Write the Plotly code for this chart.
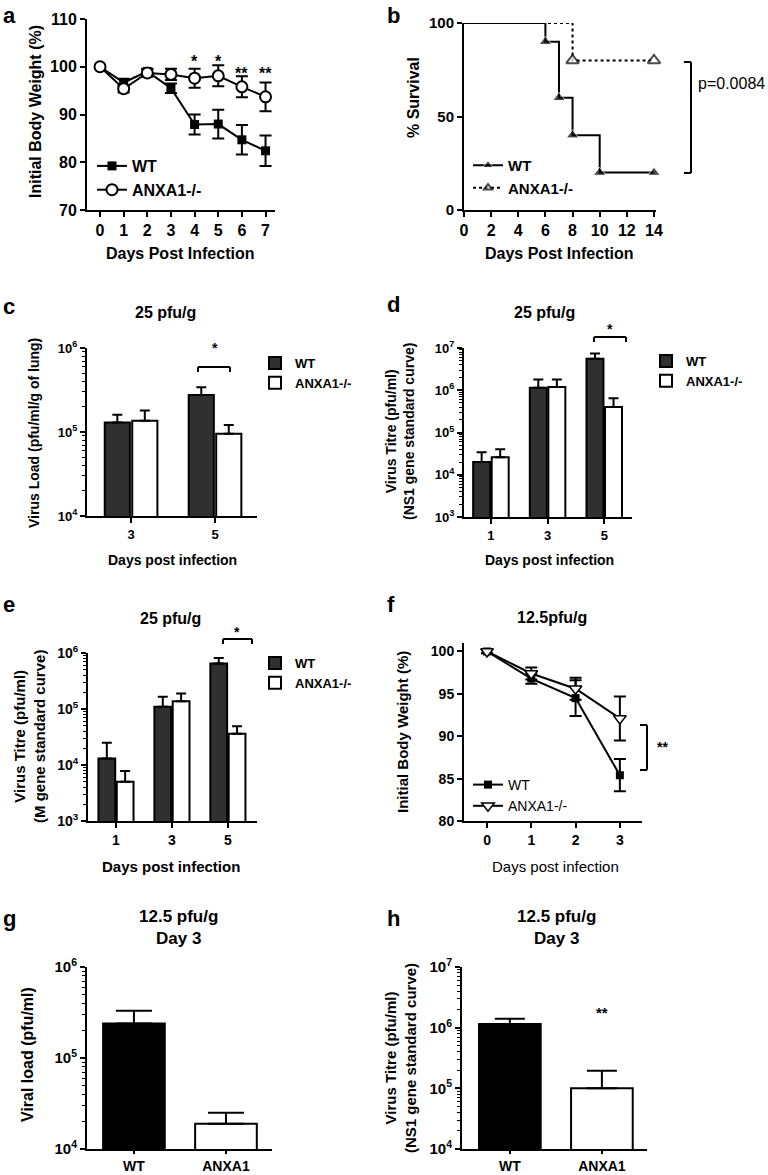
import plotly.graph_objects as go

W, H = 768, 1175
FONT = "Liberation Sans, Arial, sans-serif"


def px(x):
    return x / W


def py(y):
    return 1 - y / H


# ---------------- data ----------------
names = ["WT", "ANXA1-/-"]

# (a) body weight, 25 pfu/g
days_a = [0, 1, 2, 3, 4, 5, 6, 7]
wt_a = [100, 96.7, 99.0, 95.5, 87.9, 88.0, 84.7, 82.4]
wt_a_err = [0.4, 0.8, 0.6, 1.0, 2.1, 3.0, 3.1, 3.2]
ko_a = [100, 95.4, 98.7, 98.4, 97.6, 98.1, 95.8, 93.7]
ko_a_err = [0.4, 0.8, 0.8, 1.2, 2.0, 2.2, 2.2, 3.0]
sig_a_days = [4, 5, 6, 7]
sig_a_text = ["*", "*", "**", "**"]

# (b) survival
surv_wt_days = [0, 6, 7, 8, 10, 14]
surv_wt = [100, 90, 60, 40, 20, 20]
surv_ko_days = [0, 8, 14]
surv_ko = [100, 80, 80]
p_text = "p=0.0084"

# (c) virus load, 25 pfu/g
days_c = [3, 5]
wt_c = [1.3e5, 2.75e5]
wt_c_err = [0.3e5, 0.65e5]
ko_c = [1.36e5, 0.95e5]
ko_c_err = [0.44e5, 0.26e5]

# (d) virus titre, NS1 gene
days_d = [1, 3, 5]
wt_d = [2.0e4, 1.15e6, 5.6e6]
wt_d_err = [1.4e4, 0.65e6, 1.8e6]
ko_d = [2.6e4, 1.2e6, 4.0e5]
ko_d_err = [1.4e4, 0.6e6, 2.5e5]

# (e) virus titre, M gene
days_e = [1, 3, 5]
wt_e = [1.3e4, 1.1e5, 6.5e5]
wt_e_err = [1.2e4, 0.55e5, 1.6e5]
ko_e = [5.0e3, 1.38e5, 3.6e4]
ko_e_err = [2.8e3, 0.52e5, 1.3e4]

# (f) body weight, 12.5 pfu/g
days_f = [0, 1, 2, 3]
wt_f = [100, 96.8, 94.5, 85.4]
wt_f_err = [0.2, 0.6, 2.1, 1.9]
ko_f = [100, 97.4, 95.6, 92.1]
ko_f_err = [0.2, 0.7, 1.3, 2.6]

# (g) viral load day 3 ; (h) virus titre day 3
groups_gh = ["WT", "ANXA1"]
g_vals = [2.4e5, 1.9e4]
g_err = [0.9e5, 0.6e4]
h_vals = [1.15e6, 1.0e5]
h_err = [0.25e6, 0.95e5]

DARK = "#303030"

# ---------------- helpers ----------------
AX = dict(showline=True, linecolor="black", linewidth=2, ticks="outside",
          ticklen=5, tickwidth=2, tickcolor="black", showgrid=False,
          zeroline=False, fixedrange=True, automargin=False)


def tf(size, bold=True):
    return dict(family=FONT, size=size, color="black",
                weight="bold" if bold else "normal")


def dom_x(a, b):
    return [px(a), px(b)]


def dom_y(top, bottom):
    return [py(bottom), py(top)]


def lin_axis(dom, rng, vals, size, **kw):
    d = dict(AX, domain=dom, range=rng, tickmode="array", tickvals=vals,
             tickfont=tf(size))
    d.update(kw)
    return d


def log_axis(dom, lo, hi, size):
    vals = [10 ** n for n in range(lo, hi + 1)]
    minors = [k * 10 ** n for n in range(lo, hi) for k in range(2, 10)]
    return dict(AX, type="log", domain=dom, range=[lo, hi], tickmode="array",
                tickvals=vals,
                ticktext=[f"10<sup>{n}</sup>" for n in range(lo, hi + 1)],
                tickfont=tf(size),
                minor=dict(tickmode="array", tickvals=minors, ticks="outside",
                           ticklen=3, tickwidth=1, tickcolor="black"))


def err(vals, width, sym=True):
    if sym:
        return dict(type="data", array=vals, color="black", thickness=2, width=width)
    return dict(type="data", symmetric=False, array=vals, arrayminus=[0] * len(vals),
                color="black", thickness=2, width=width)


fig = go.Figure()

# ---------------- (a) ----------------
fig.add_trace(go.Scatter(x=days_a, y=wt_a, error_y=err(wt_a_err, 6), name=names[0],
                         mode="lines+markers", line=dict(color="black", width=2),
                         marker=dict(symbol="square", size=9, color="black"),
                         xaxis="x", yaxis="y", legend="legend", cliponaxis=False))
fig.add_trace(go.Scatter(x=days_a, y=ko_a, error_y=err(ko_a_err, 6), name=names[1],
                         mode="lines+markers", line=dict(color="black", width=2),
                         marker=dict(symbol="circle", size=11, color="white",
                                     line=dict(color="black", width=2)),
                         xaxis="x", yaxis="y", legend="legend", cliponaxis=False))

# ---------------- (b) ----------------
fig.add_trace(go.Scatter(x=surv_wt_days, y=surv_wt, name=names[0], mode="lines+markers",
                         line=dict(color="black", width=2, shape="hv"),
                         marker=dict(symbol="triangle-up", size=[0, 11, 11, 11, 11, 11],
                                     color="black"),
                         xaxis="x2", yaxis="y2", legend="legend2", cliponaxis=False))
fig.add_trace(go.Scatter(x=surv_ko_days, y=surv_ko, name=names[1], mode="lines+markers",
                         line=dict(color="black", width=2, shape="hv", dash="dot"),
                         marker=dict(symbol="triangle-up", size=[0, 11, 11], color="white",
                                     line=dict(color="black", width=2)),
                         xaxis="x2", yaxis="y2", legend="legend2", cliponaxis=False))

# ---------------- (c), (d), (e) grouped bars ----------------
for i, (days, wt, wte, ko, koe, leg) in enumerate([
        (days_c, wt_c, wt_c_err, ko_c, ko_c_err, "legend3"),
        (days_d, wt_d, wt_d_err, ko_d, ko_d_err, "legend4"),
        (days_e, wt_e, wt_e_err, ko_e, ko_e_err, "legend5")]):
    xa, ya = f"x{i + 3}", f"y{i + 3}"
    fig.add_trace(go.Bar(x=days, y=wt, error_y=err(wte, 5, sym=False), name=names[0],
                         marker=dict(color=DARK, line=dict(color="black", width=2)),
                         xaxis=xa, yaxis=ya, legend=leg))
    fig.add_trace(go.Bar(x=days, y=ko, error_y=err(koe, 5, sym=False), name=names[1],
                         marker=dict(color="white", line=dict(color="black", width=2)),
                         xaxis=xa, yaxis=ya, legend=leg))

# ---------------- (f) ----------------
fig.add_trace(go.Scatter(x=days_f, y=wt_f, error_y=err(wt_f_err, 6), name=names[0],
                         mode="lines+markers", line=dict(color="black", width=2),
                         marker=dict(symbol="square", size=8, color="black"),
                         xaxis="x6", yaxis="y6", legend="legend6", cliponaxis=False))
fig.add_trace(go.Scatter(x=days_f, y=ko_f, error_y=err(ko_f_err, 6), name=names[1],
                         mode="lines+markers", line=dict(color="black", width=2),
                         marker=dict(symbol="triangle-down", size=11, color="white",
                                     line=dict(color="black", width=1.5)),
                         xaxis="x6", yaxis="y6", legend="legend6", cliponaxis=False))

# ---------------- (g), (h) ----------------
fig.add_trace(go.Bar(x=groups_gh, y=g_vals, error_y=err(g_err, 18, sym=False), width=0.67,
                     marker=dict(color=["black", "white"], line=dict(color="black", width=2)),
                     showlegend=False, xaxis="x7", yaxis="y7"))
fig.add_trace(go.Bar(x=groups_gh, y=h_vals, error_y=err(h_err, 15, sym=False), width=0.67,
                     marker=dict(color=["black", "white"], line=dict(color="black", width=2)),
                     showlegend=False, xaxis="x8", yaxis="y8"))

# ---------------- axes ----------------
layout = dict(
    width=W, height=H, margin=dict(l=0, r=0, t=0, b=0, autoexpand=False),
    paper_bgcolor="white", plot_bgcolor="rgba(0,0,0,0)",
    font=dict(family=FONT, color="black"),
    barmode="group", bargap=0.345, bargroupgap=0.085,
    xaxis=lin_axis(dom_x(87, 275), [-0.55, 7.4], days_a, 16, anchor="y"),
    yaxis=lin_axis(dom_y(19, 210), [70, 110], [70, 80, 90, 100, 110], 16, anchor="x"),
    xaxis2=lin_axis(dom_x(464, 656), [0, 14.15], list(range(0, 15, 2)), 16, anchor="y2"),
    yaxis2=lin_axis(dom_y(23, 210), [0, 100], [0, 50, 100], 15, anchor="x2"),
    xaxis3=lin_axis(dom_x(87, 257), [1.95, 6.0], days_c, 13, anchor="y3"),
    yaxis3=dict(log_axis(dom_y(348, 516), 4, 6, 13), anchor="x3"),
    xaxis4=lin_axis(dom_x(464, 632), [0.05, 5.98], days_d, 13, anchor="y4"),
    yaxis4=dict(log_axis(dom_y(348, 517), 3, 7, 13), anchor="x4"),
    xaxis5=lin_axis(dom_x(88, 257), [0.0, 6.04], days_e, 14, anchor="y5"),
    yaxis5=dict(log_axis(dom_y(653, 821), 3, 6, 14), anchor="x5"),
    xaxis6=lin_axis(dom_x(464, 642), [-0.52, 3.5], days_f, 14, anchor="y6"),
    yaxis6=lin_axis(dom_y(643, 821), [80, 101], [80, 85, 90, 95, 100], 14, anchor="x6"),
    xaxis7=dict(AX, domain=dom_x(87, 272), range=[-0.51, 1.5], type="category",
                tickfont=tf(14), ticklen=3, anchor="y7"),
    yaxis7=dict(log_axis(dom_y(967, 1149), 4, 6, 15), anchor="x7"),
    xaxis8=dict(AX, domain=dom_x(462, 647), range=[-0.52, 1.49], type="category",
                tickfont=tf(14), ticklen=3, anchor="y8"),
    yaxis8=dict(log_axis(dom_y(967, 1149), 4, 7, 15), anchor="x8"),
)


def leg(x, y, size, bold=True):
    return dict(x=px(x), y=py(y), xanchor="left", yanchor="top", font=tf(size, bold),
                bgcolor="rgba(0,0,0,0)", itemwidth=30, tracegroupgap=0,
                traceorder="normal", borderwidth=0)


layout.update(
    legend=leg(92, 149, 16),
    legend2=leg(468, 149, 15),
    legend3=leg(255, 348, 13),
    legend4=leg(646, 346, 13),
    legend5=leg(255, 648, 13),
    legend6=leg(468, 769, 14, bold=False),
)
fig.update_layout(**layout)

# ---------------- annotations ----------------
ann = []


def text(x, y, s, size, bold=True, angle=0, xanchor="center", yanchor="middle"):
    ann.append(dict(x=px(x), y=py(y), xref="paper", yref="paper", text=s,
                    showarrow=False, font=tf(size, bold), textangle=angle,
                    xanchor=xanchor, yanchor=yanchor))


# panel letters
for lbl, x, y in [("a", 1, 15), ("b", 385, 15), ("c", 1, 306), ("d", 385, 304),
                  ("e", 1, 604), ("f", 385, 604), ("g", 1, 918), ("h", 385, 918)]:
    text(x, y, lbl, 22, xanchor="left")

# (a)
text(35, 112, "Initial Body Weight (%)", 16, angle=-90)
text(180, 253, "Days Post Infection", 16)
for d, s in zip(sig_a_days, sig_a_text):
    ann.append(dict(x=d, y=py(62 if s == "*" else 73), xref="x", yref="paper", text=s,
                    showarrow=False, font=tf(16), xanchor="center", yanchor="middle"))
# (b)
text(413, 98, "% Survival", 16, angle=-90)
text(559, 253, "Days Post Infection", 16)
text(767, 83, p_text, 16, bold=False, xanchor="right")
# (c)
text(165, 313, "25 pfu/g", 16)
text(34, 433, "Virus Load (pfu/ml/g of lung)", 14, angle=-90)
text(172, 560, "Days post infection", 14)
text(215, 348, "*", 14)
# (d)
text(544, 312, "25 pfu/g", 16)
text(400, 432, "Virus Titre (pfu/ml)<br>(NS1 gene standard curve)", 14, angle=-90)
text(549, 560, "Days post infection", 14)
text(610, 329, "*", 14)
# (e)
text(170, 618, "25 pfu/g", 16)
text(29, 737, "Virus Titre (pfu/ml)<br>(M gene standard curve)", 15, angle=-90)
text(171, 866, "Days post infection", 15)
text(237, 632, "*", 14)
# (f)
text(552, 617, "12.5pfu/g", 16)
text(402, 732, "Initial Body Weight (%)", 15, angle=-90)
text(555, 866, "Days post infection", 15, bold=False)
text(662, 747, "**", 14)
# (g)
text(178, 927, "12.5 pfu/g<br>Day 3", 17)
text(27, 1055, "Viral load (pfu/ml)", 16, angle=-90)
# (h)
text(556, 927, "12.5 pfu/g<br>Day 3", 17)
text(400, 1058, "Virus Titre (pfu/ml)<br>(NS1 gene standard curve)", 15, angle=-90)
text(602, 1012, "**", 15)

# ---------------- bracket shapes ----------------
shapes = []


def seg(x0, y0, x1, y1):
    shapes.append(dict(type="line", xref="paper", yref="paper", x0=px(x0), y0=py(y0),
                       x1=px(x1), y1=py(y1), line=dict(color="black", width=2)))


def hbracket(x0, x1, y, drop=5):
    seg(x0, y, x1, y)
    seg(x0, y, x0, y + drop)
    seg(x1, y, x1, y + drop)


def vbracket(x, y0, y1, tick=7):
    seg(x, y0, x, y1)
    seg(x - tick, y0, x, y0)
    seg(x - tick, y1, x, y1)


hbracket(198, 230, 367)
hbracket(594, 626, 337)
hbracket(223, 252, 639)
vbracket(691, 62, 173)
vbracket(647, 725, 770)

fig.update_layout(annotations=ann, shapes=shapes)
# remove the browser's default 8px page margin so the figure fills the window exactly
fig.write_html("out.html", config={"displayModeBar": False},
               post_script="document.body.style.margin='0';document.body.style.overflow='hidden';")
